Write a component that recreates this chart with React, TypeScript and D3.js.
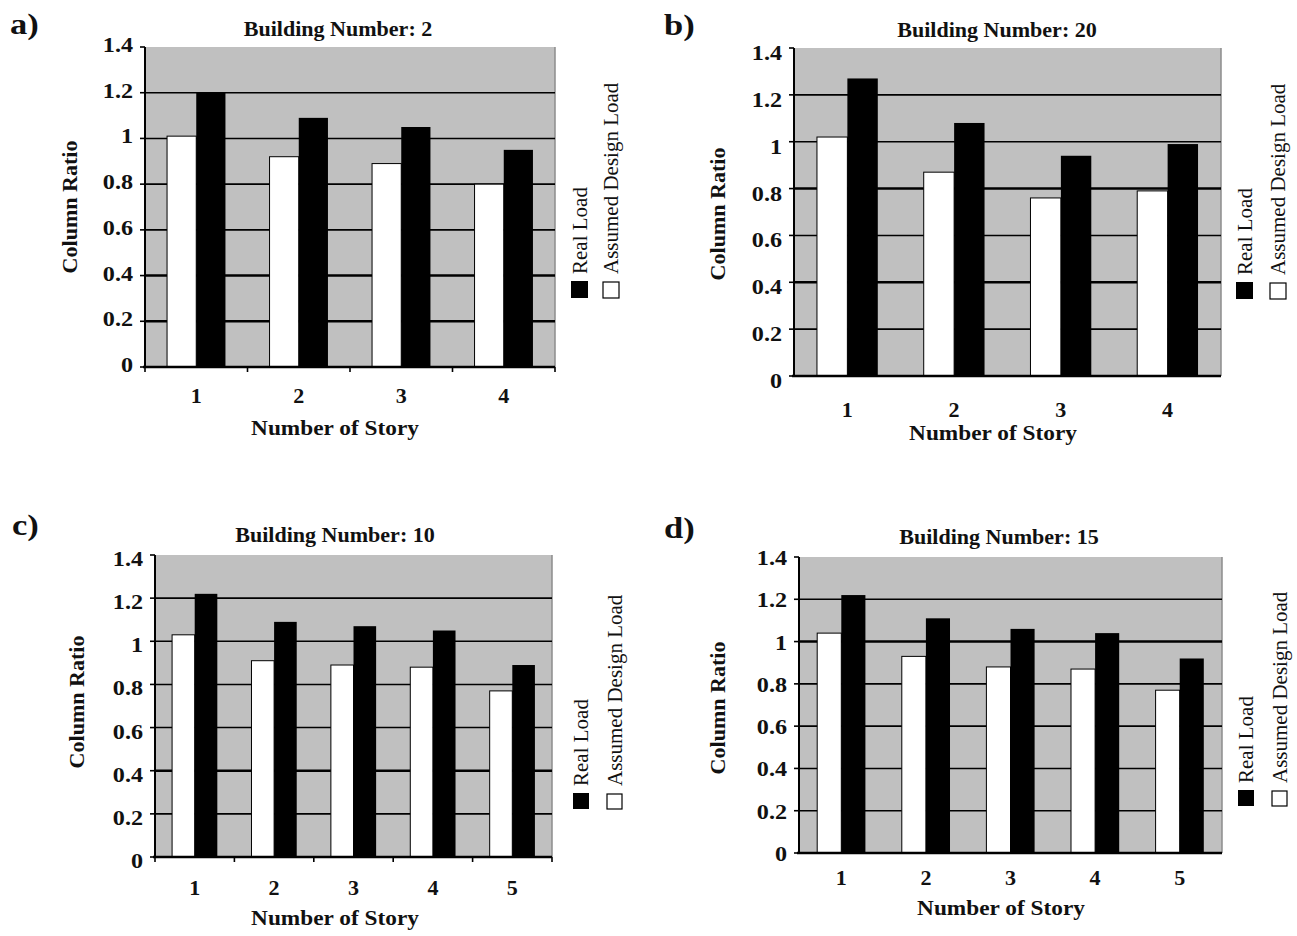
import React from 'react';
import * as d3 from 'd3';

// ---------------- data ----------------
const panelLetters = ['a)', 'b)', 'c)', 'd)'];
const buildingNumbers = ['2', '20', '10', '15'];
const seriesNames = ['Real Load', 'Assumed Design Load'];
const yTickValues = [0, 0.2, 0.4, 0.6, 0.8, 1, 1.2, 1.4];
const xAxisTitle = 'Number of Story';
const yAxisTitle = 'Column Ratio';

const storiesA = ['1', '2', '3', '4'];
const assumedA = [1.01, 0.92, 0.89, 0.8];
const realA = [1.2, 1.09, 1.05, 0.95];

const storiesB = ['1', '2', '3', '4'];
const assumedB = [1.02, 0.87, 0.76, 0.79];
const realB = [1.27, 1.08, 0.94, 0.99];

const storiesC = ['1', '2', '3', '4', '5'];
const assumedC = [1.03, 0.91, 0.89, 0.88, 0.77];
const realC = [1.22, 1.09, 1.07, 1.05, 0.89];

const storiesD = ['1', '2', '3', '4', '5'];
const assumedD = [1.04, 0.93, 0.88, 0.87, 0.77];
const realD = [1.22, 1.11, 1.06, 1.04, 0.92];

// ---------------- layout ----------------
const FONT = "'Liberation Serif','Times New Roman',serif";

type Layout = {
  l: number; r: number; t: number; b: number;
  letter: [number, number];
  title: [number, number];
  xLabY: number;
  xTitle: [number, number];
  yTitle: [number, number];
  tickDy: number;
  xTicks: boolean;
  thickGrid: number[];
  legBlack: [number, number];
  legWhite: [number, number];
  legY: number;
};

const layouts: Layout[] = [
  { l: 145, r: 555, t: 47, b: 367, letter: [10, 34], title: [338, 36], xLabY: 403, xTitle: [335, 435], yTitle: [70, 207], tickDy: -2, xTicks: true, thickGrid: [0.4, 0.2], legBlack: [571, 17], legWhite: [603, 16], legY: 281 },
  { l: 794, r: 1221, t: 48, b: 376, letter: [664, 35], title: [997, 37], xLabY: 417, xTitle: [993, 440], yTitle: [718, 214], tickDy: 5, xTicks: false, thickGrid: [0.8, 0.4], legBlack: [1236, 17], legWhite: [1270, 16], legY: 282 },
  { l: 155, r: 552, t: 555, b: 857, letter: [12, 535], title: [335, 542], xLabY: 895, xTitle: [335, 925], yTitle: [77, 702], tickDy: 4, xTicks: true, thickGrid: [0.4], legBlack: [573, 16], legWhite: [607, 15], legY: 793 },
  { l: 799, r: 1222, t: 557, b: 853, letter: [664, 538], title: [999, 544], xLabY: 885, xTitle: [1001, 915], yTitle: [718, 708], tickDy: 1, xTicks: false, thickGrid: [1], legBlack: [1238, 16], legWhite: [1272, 15], legY: 790 },
];

const panelData = [
  { stories: storiesA, assumed: assumedA, real: realA },
  { stories: storiesB, assumed: assumedB, real: realB },
  { stories: storiesC, assumed: assumedC, real: realC },
  { stories: storiesD, assumed: assumedD, real: realD },
];

function T(props: {
  x: number; y: number; rot?: number; sx?: number; size: number; bold?: boolean;
  anchor?: 'start' | 'middle' | 'end'; baseline?: string; children: React.ReactNode;
}) {
  const { x, y, rot = 0, sx = 1, size, bold = true, anchor = 'middle', baseline, children } = props;
  return (
    <text
      transform={`translate(${x},${y}) rotate(${rot}) scale(${sx},1)`}
      fontFamily={FONT}
      fontSize={size}
      fontWeight={bold ? 'bold' : 'normal'}
      textAnchor={anchor}
      dominantBaseline={baseline}
      fill="#111"
    >
      {children}
    </text>
  );
}

function Panel({ idx }: { idx: number }) {
  const L = layouts[idx];
  const D = panelData[idx];
  const y = d3.scaleLinear().domain([0, 1.4]).range([L.b, L.t]);
  const x0 = d3.scaleBand<string>().domain(D.stories).range([L.l, L.r]).paddingInner(0).paddingOuter(0);
  const x1 = d3.scaleBand<string>().domain(['assumed', 'real']).range([0, x0.bandwidth()]).paddingInner(0).paddingOuter(0.755);
  const bw = x1.bandwidth();
  const legSize = L.legBlack[1];

  return (
    <g>
      <T x={L.letter[0]} y={L.letter[1]} size={30} sx={1.15} anchor="start">{panelLetters[idx]}</T>
      <T x={L.title[0]} y={L.title[1]} size={21} sx={1.05}>{`Building Number: ${buildingNumbers[idx]}`}</T>

      {/* plot background */}
      <rect x={L.l} y={L.t} width={L.r - L.l} height={L.b - L.t} fill="#c0c0c0" />
      <line x1={L.r} x2={L.r} y1={L.t} y2={L.b} stroke="#8c8c8c" strokeWidth={1.5} />

      {/* grid lines */}
      {yTickValues.filter(v => v > 0 && v < 1.4).map(v => (
        <line key={v} x1={L.l} x2={L.r} y1={y(v)} y2={y(v)} stroke="#000"
          strokeWidth={L.thickGrid.includes(v) ? 2.6 : 1.6} />
      ))}

      {/* bars */}
      {D.stories.map((s, i) => (
        <g key={s} transform={`translate(${x0(s)},0)`}>
          <rect x={x1('assumed')} y={y(D.assumed[i])} width={bw} height={y(0) - y(D.assumed[i])} fill="#fff" stroke="#000" strokeWidth={1} />
          <rect x={x1('real')} y={y(D.real[i])} width={bw} height={y(0) - y(D.real[i])} fill="#000" />
        </g>
      ))}

      {/* y axis */}
      <line x1={L.l} x2={L.l} y1={L.t} y2={L.b} stroke="#000" strokeWidth={2} />
      {yTickValues.map(v => (
        <g key={v}>
          <line x1={L.l - 5} x2={L.l} y1={y(v)} y2={y(v)} stroke="#000" strokeWidth={1.6} />
          <T x={L.l - 12} y={y(v) + L.tickDy} size={21} sx={1.15} anchor="end" baseline="central">{String(v)}</T>
        </g>
      ))}

      {/* x axis */}
      <line x1={L.l - 2} x2={L.r} y1={L.b} y2={L.b} stroke="#000" strokeWidth={2.5} />
      {L.xTicks && D.stories.map(s => (
        <line key={'t' + s} x1={x0(s) as number} x2={x0(s) as number} y1={L.b} y2={L.b + 5} stroke="#000" strokeWidth={1.6} />
      ))}
      {L.xTicks && (
        <line x1={L.r} x2={L.r} y1={L.b} y2={L.b + 5} stroke="#000" strokeWidth={1.6} />
      )}
      {D.stories.map(s => (
        <T key={'l' + s} x={(x0(s) as number) + x0.bandwidth() / 2} y={L.xLabY} size={21} sx={1.05}>{s}</T>
      ))}

      <T x={L.xTitle[0]} y={L.xTitle[1]} size={22} sx={1.06}>{xAxisTitle}</T>
      <T x={L.yTitle[0]} y={L.yTitle[1]} size={21} sx={1.05} rot={-90} baseline="central">{yAxisTitle}</T>

      {/* legend */}
      <rect x={L.legBlack[0]} y={L.legY} width={legSize} height={legSize} fill="#000" />
      <rect x={L.legWhite[0]} y={L.legY + 1} width={L.legWhite[1]} height={L.legWhite[1]} fill="#fff" stroke="#000" strokeWidth={1.2} />
      <T x={L.legBlack[0] + legSize / 2} y={L.legY - 7} size={21} bold={false} rot={-90} anchor="start" baseline="central">{seriesNames[0]}</T>
      <T x={L.legWhite[0] + L.legWhite[1] / 2} y={L.legY - 7} size={21} bold={false} rot={-90} anchor="start" baseline="central">{seriesNames[1]}</T>
    </g>
  );
}

export default function App() {
  return (
    <svg
      width={1297}
      height={936}
      style={{ position: 'absolute', left: 0, top: 0, background: '#fff' }}
    >
      <rect x={0} y={0} width={1297} height={936} fill="#fff" />
      {layouts.map((_, i) => <Panel key={i} idx={i} />)}
    </svg>
  );
}
